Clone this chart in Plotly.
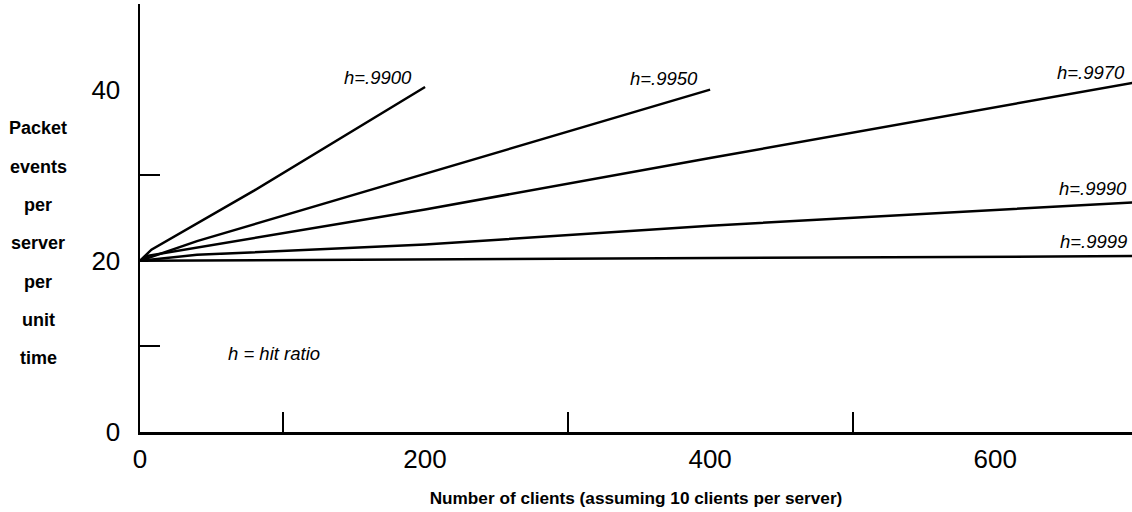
import plotly.graph_objects as go

# ---- data ----
clients_9900 = [0, 8, 80, 200]
events_9900 = [20, 21.3, 28.2, 40.3]

clients_9950 = [0, 40, 400]
events_9950 = [20, 22.3, 40.0]

clients_9970 = [0, 6, 200, 400, 700]
events_9970 = [20, 20.6, 26.0, 32.0, 40.9]

clients_9990 = [0, 40, 200, 400, 700]
events_9990 = [20, 20.7, 21.9, 24.1, 26.85]

clients_9999 = [0, 700]
events_9999 = [20, 20.55]

series_names = ["h=.9900", "h=.9950", "h=.9970", "h=.9990", "h=.9999"]
label_x = [166.7, 367.7, 667.4, 668.8, 668.8]
label_y = [41.4, 41.3, 42.0, 28.4, 22.3]

x_tick_vals = [0, 200, 400, 600]
x_minor_vals = [100, 300, 500]
y_tick_vals = [0, 20, 40]
y_minor_vals = [10, 30]

y_title_words = ["Packet", "events", "per", "server", "per", "unit", "time"]
y_title_pos = [35.5, 31.0, 26.5, 22.1, 17.5, 13.1, 8.6]

x_title = "Number of clients (assuming 10 clients per server)"
note_text = "<i>h = hit ratio</i>"

FONT = "Liberation Sans, Arial, Helvetica, sans-serif"
PLOT_LEFT = 140
PLOT_W = 992

fig = go.Figure()
all_series = [
    (clients_9900, events_9900),
    (clients_9950, events_9950),
    (clients_9970, events_9970),
    (clients_9990, events_9990),
    (clients_9999, events_9999),
]
for (xs, ys), name in zip(all_series, series_names):
    fig.add_trace(go.Scatter(x=xs, y=ys, mode="lines", name=name,
                             line=dict(color="black", width=2.5),
                             showlegend=False, hoverinfo="skip"))

for name, lx, ly in zip(series_names, label_x, label_y):
    fig.add_annotation(x=lx, y=ly, xref="x", yref="y", text="<i>" + name + "</i>",
                       showarrow=False, font=dict(family=FONT, size=18.5, color="black"))

fig.add_annotation(x=94, y=9.2, xref="x", yref="y", text=note_text,
                   showarrow=False, font=dict(family=FONT, size=18.5, color="black"))

for word, wy in zip(y_title_words, y_title_pos):
    fig.add_annotation(x=(38 - PLOT_LEFT) / PLOT_W, y=wy, xref="paper", yref="y",
                       xanchor="center", text="<b>" + word + "</b>", showarrow=False,
                       font=dict(family=FONT, size=18, color="black"))

fig.update_layout(
    width=1132, height=512,
    margin=dict(l=PLOT_LEFT, r=0, t=4, b=80),
    paper_bgcolor="white", plot_bgcolor="white",
    font=dict(family=FONT, color="black"),
    xaxis=dict(range=[0, 696], tickvals=x_tick_vals, ticks="", showgrid=False,
               zeroline=False, showline=True, linecolor="black", linewidth=2.5,
               tickfont=dict(size=26, family=FONT), ticklabelstandoff=2,
               minor=dict(tickvals=x_minor_vals, ticks="inside", ticklen=20,
                          tickwidth=2, tickcolor="black", showgrid=False),
               title=dict(text="<b>" + x_title + "</b>", font=dict(size=17.2, family=FONT),
                          standoff=20)),
    yaxis=dict(range=[0, 50], tickvals=y_tick_vals, ticks="", showgrid=False,
               zeroline=False, showline=True, linecolor="black", linewidth=2.5,
               tickfont=dict(size=26, family=FONT), ticklabelstandoff=12,
               minor=dict(tickvals=y_minor_vals, ticks="inside", ticklen=20,
                          tickwidth=2, tickcolor="black", showgrid=False)),
)

fig.write_html("out.html",
               config={"displayModeBar": False, "staticPlot": True},
               post_script="document.body.style.margin='0';document.body.style.padding='0';"
                           "document.body.style.overflow='hidden';")
